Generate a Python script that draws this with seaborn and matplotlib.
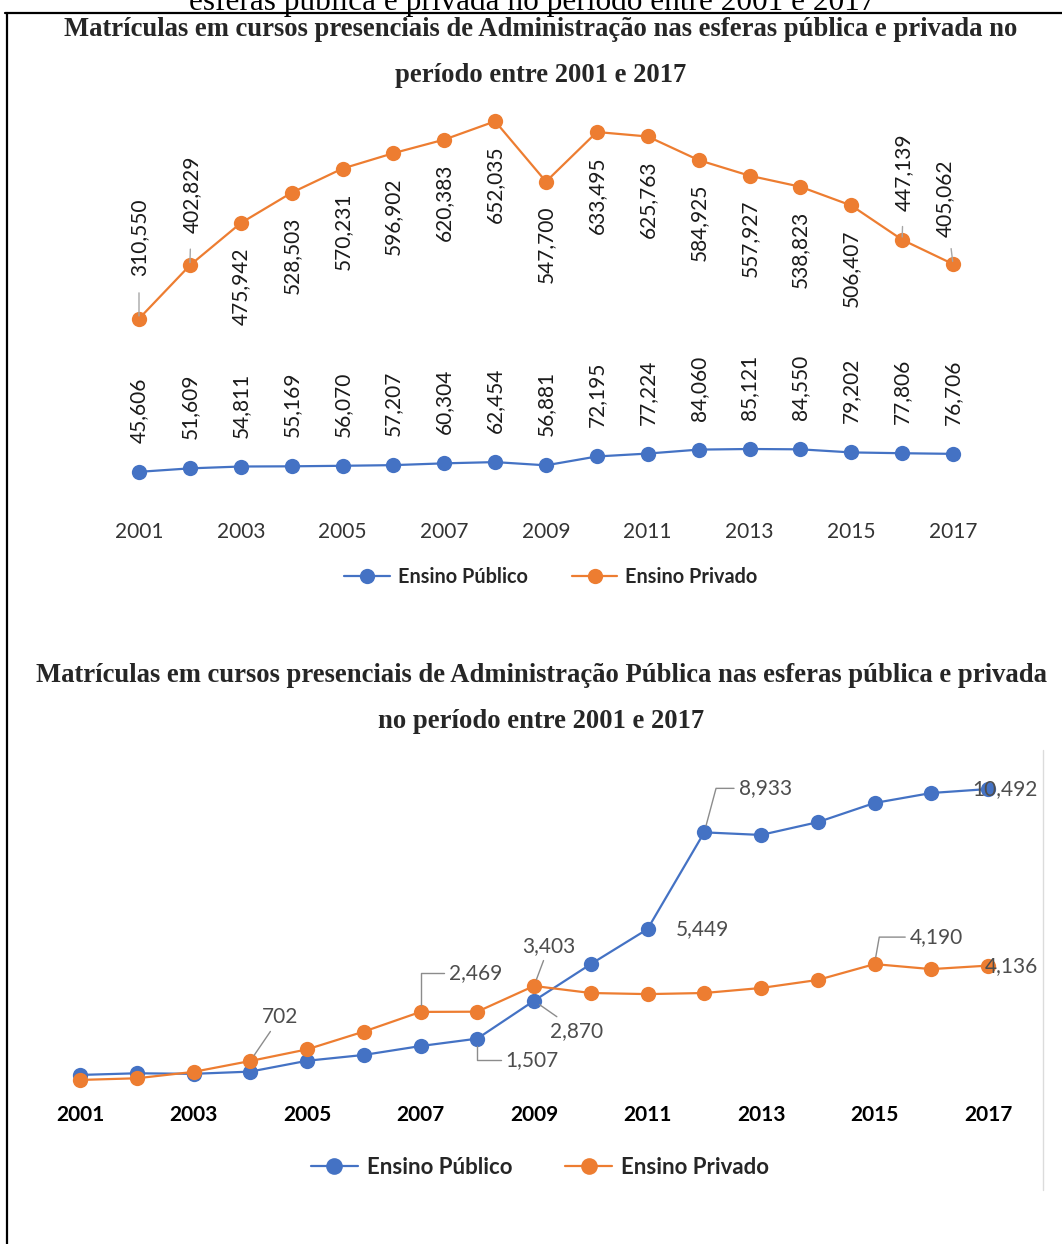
import matplotlib
matplotlib.use("Agg")
import matplotlib.pyplot as plt
import seaborn as sns
import pandas as pd
from matplotlib.lines import Line2D

# ---------------- data ----------------
anos = list(range(2001, 2018))
anos_ticks = [2001, 2003, 2005, 2007, 2009, 2011, 2013, 2015, 2017]
redes = ["Ensino Público", "Ensino Privado"]

# Chart 1: Administração
adm_publico = [45606, 51609, 54811, 55169, 56070, 57207, 60304, 62454, 56881,
               72195, 77224, 84060, 85121, 84550, 79202, 77806, 76706]
adm_privado = [310550, 402829, 475942, 528503, 570231, 596902, 620383, 652035, 547700,
               633495, 625763, 584925, 557927, 538823, 506407, 447139, 405062]

# Chart 2: Administração Pública (unlabelled points)
admpub_publico = [200, 260, 240, 320, 710, 920, 1240, 1507, 2870,
                  4190, 5449, 8933, 8840, 9300, 9990, 10350, 10492]
admpub_privado = [20, 80, 310, 702, 1120, 1760, 2469, 2477, 3403,
                  3150, 3110, 3150, 3330, 3620, 4190, 4010, 4136]

# years that carry a data label in chart 2
rot2_publico = [2008, 2009, 2011, 2012, 2017]
rot2_privado = [2004, 2007, 2009, 2015, 2017]

titulo_topo = "esferas pública e privada no período entre 2001 e 2017"
titulo_1 = ["Matrículas em cursos presenciais de Administração nas esferas pública e privada no",
            "período entre 2001 e 2017"]
titulo_2 = ["Matrículas em cursos presenciais de Administração Pública nas esferas pública e privada",
            "no período entre 2001 e 2017"]

# ---------------- style ----------------
sns.set_style("white")
plt.rcParams["font.family"] = ["Lato", "DejaVu Sans"]

AZUL = "#4472C4"
LARANJA = "#ED7D31"
paleta = {redes[0]: AZUL, redes[1]: LARANJA}

W, H, DPI = 1062, 1244, 100
PX = 72.0 / DPI  # points per pixel


def box(l, t, r, b):
    return [l / W, 1 - b / H, (r - l) / W, (b - t) / H]


fig = plt.figure(figsize=(W / DPI, H / DPI), dpi=DPI)
fig.patch.set_facecolor("white")

# page furniture (the top caption is cut off by the page edge, as in the source)
fig.text(532 / W, 1 - 10 / H, titulo_topo, ha="center", va="baseline",
         family="Liberation Serif", fontsize=22.5, color="black")
fig.add_artist(Line2D([5 / W, 1.0], [1 - 13 / H] * 2, color="black", lw=1.6))
fig.add_artist(Line2D([7 / W] * 2, [1 - 13 / H, 0.0], color="black", lw=1.6))
fig.add_artist(Line2D([1043 / W] * 2, [1 - 750 / H, 1 - 1190 / H], color="#dcdcdc", lw=1))

for txt, y in zip(titulo_1, [30, 76]):
    fig.text(541 / W, 1 - y / H, txt, ha="center", va="center",
             family="Liberation Serif", weight="bold", fontsize=19.2)
for txt, y in zip(titulo_2, [676, 722]):
    fig.text(541 / W, 1 - y / H, txt, ha="center", va="center",
             family="Liberation Serif", weight="bold", fontsize=19.2)


def long_df(pub, priv):
    return pd.DataFrame({
        "Ano": anos + anos,
        "Matrículas": pub + priv,
        "Rede": [redes[0]] * len(anos) + [redes[1]] * len(anos),
    })


def clean(ax):
    for s in ax.spines.values():
        s.set_visible(False)
    ax.set_yticks([])
    ax.set_xticks(anos_ticks)
    ax.set_xlabel("")
    ax.set_ylabel("")
    ax.set_facecolor("none")


# ---------------- chart 1 ----------------
ax1 = fig.add_axes(box(100, 100, 1000, 510))
sns.lineplot(data=long_df(adm_publico, adm_privado), x="Ano", y="Matrículas",
             hue="Rede", palette=paleta, marker="o", markersize=11,
             markeredgewidth=0, linewidth=1.6, legend=False, ax=ax1)
clean(ax1)
ax1.set_xlim(2001 - 39 / 50.875, 2017 + 47 / 50.875)
ax1.set_ylim(-(510 - 498.2) * 1730, (498.2 - 100) * 1730)
ax1.tick_params(axis="x", length=0, labelsize=15, colors="#333333", pad=8.5)

for x, v in zip(anos, adm_publico):
    ax1.annotate(f"{v:,}", (x, v), xytext=(0, 29 * PX), textcoords="offset points",
                 rotation=90, ha="center", va="bottom", fontsize=15, color="#1a1a1a")

# labels placed above (with leader line) for these years: (dx px, dy px, shrinkA pt)
acima = {2001: (0, 43, 10), 2002: (2, 32, 9), 2016: (2, 29, 9), 2017: (-8, 27, 6)}
for x, v in zip(anos, adm_privado):
    if x in acima:
        dx, dy, sa = acima[x]
        ax1.annotate(f"{v:,}", (x, v), xytext=(dx * PX, dy * PX), textcoords="offset points",
                     rotation=90, ha="center", va="bottom", fontsize=15, color="#1a1a1a",
                     arrowprops=dict(arrowstyle="-", color="#a6a6a6", lw=1.0,
                                     shrinkA=sa, shrinkB=2))
    else:
        ax1.annotate(f"{v:,}", (x, v), xytext=(0, -24 * PX), textcoords="offset points",
                     rotation=90, ha="center", va="top", fontsize=15, color="#1a1a1a")

h1 = [Line2D([0], [0], color=c, marker="o", markersize=11, markeredgewidth=0, lw=1.6)
      for c in (AZUL, LARANJA)]
fig.legend(h1, redes, loc="center", bbox_to_anchor=(551 / W, 1 - 577 / H), ncol=2,
           frameon=False, prop=dict(weight="bold", size=14.3), handlelength=2.3,
           handletextpad=0.4, columnspacing=2.2)

# ---------------- chart 2 ----------------
ax2 = fig.add_axes(box(40, 760, 1040, 1090))
sns.lineplot(data=long_df(admpub_publico, admpub_privado), x="Ano", y="Matrículas",
             hue="Rede", palette=paleta, marker="o", markersize=11,
             markeredgewidth=0, linewidth=1.6, legend=False, ax=ax2)
clean(ax2)
ax2.set_xlim(2001 - 40 / 56.75, 2017 + 52 / 56.75)
ax2.set_ylim(-(1090 - 1080.5) * 36, (1080.5 - 760) * 36)
ax2.tick_params(axis="x", length=0, labelsize=15, colors="black", pad=11)
for t in ax2.get_xticklabels():
    t.set_fontweight("bold")

# label offsets (px) and leader style per labelled point
pos2 = {
    ("pub", 2008): (55, 21, "angle,angleA=0,angleB=90,rad=0"),
    ("pub", 2009): (43, 30, "arc3"),
    ("pub", 2011): (55, 0, None),
    ("pub", 2012): (61, -44, "angle,angleA=0,angleB=75,rad=0"),
    ("pub", 2017): (17, 0, None),
    ("priv", 2004): (30, -44, "arc3"),
    ("priv", 2007): (55, -39, "angle,angleA=0,angleB=90,rad=0"),
    ("priv", 2009): (15, -40, "arc3"),
    ("priv", 2015): (62, -27, "angle,angleA=0,angleB=80,rad=0"),
    ("priv", 2017): (23, 0, None),
}
for chave, serie, anos_rot in (("pub", admpub_publico, rot2_publico),
                               ("priv", admpub_privado, rot2_privado)):
    for x, v in zip(anos, serie):
        if x not in anos_rot:
            continue
        dx, dy, cs = pos2[(chave, x)]
        kw = {}
        if cs is not None:
            kw["arrowprops"] = dict(arrowstyle="-", color="#8c8c8c", lw=1.0,
                                    connectionstyle=cs, shrinkA=1, shrinkB=5)
        ax2.annotate(f"{v:,}", (x, v), xytext=(dx * PX, -dy * PX), textcoords="offset points",
                     ha="center", va="center", fontsize=15, color="#4d4d4d", zorder=5, **kw)

h2 = [Line2D([0], [0], color=c, marker="o", markersize=12, markeredgewidth=0, lw=1.6)
      for c in (AZUL, LARANJA)]
fig.legend(h2, redes, loc="center", bbox_to_anchor=(540 / W, 1 - 1167 / H), ncol=2,
           frameon=False, prop=dict(weight="bold", size=16), handlelength=2.1,
           handletextpad=0.4, columnspacing=2.4)

fig.savefig("out.png", dpi=DPI)
